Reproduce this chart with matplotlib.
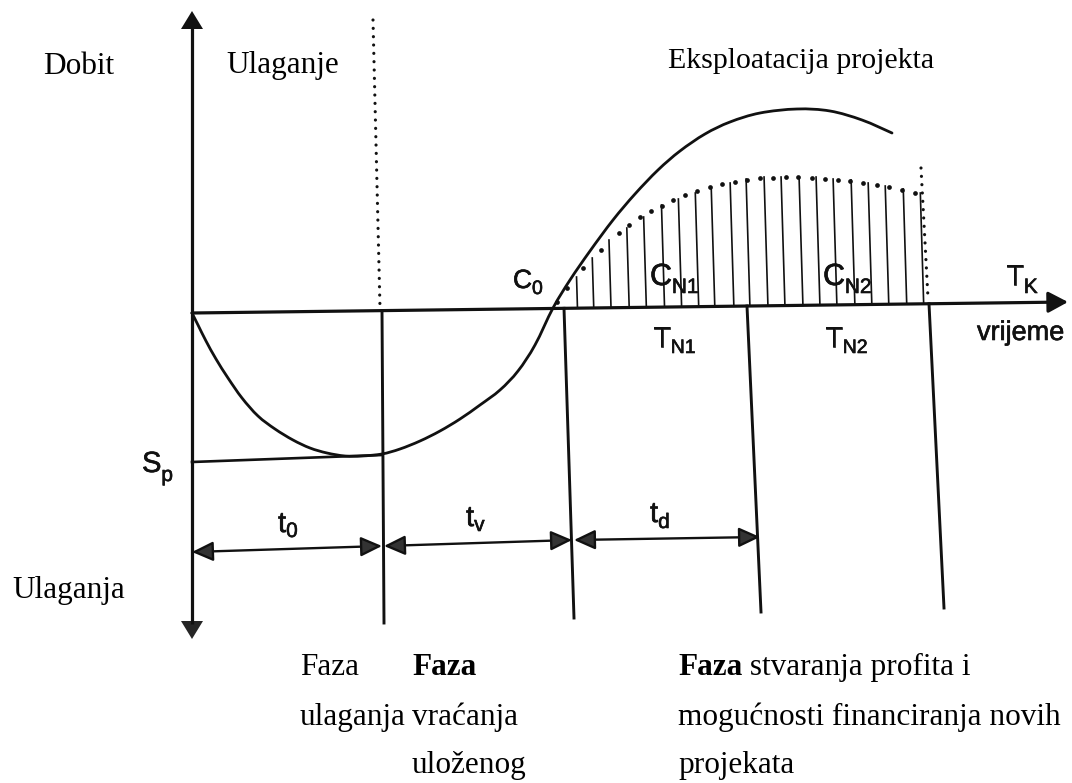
import numpy as np
import matplotlib
matplotlib.use("Agg")
import matplotlib.pyplot as plt
from matplotlib.path import Path
from matplotlib.patches import PathPatch
import matplotlib.patheffects as pe

# ---- data (diagram coordinates, y grows downward) ----
# S-shaped cumulative cash-flow curve
curve_x = [192, 198, 206, 216, 228, 242, 258, 275, 293, 310, 327, 345, 362, 382,
           400, 420, 440, 460, 480, 500, 518, 535, 553, 570, 590, 613, 635, 658,
           680, 705, 730, 760, 797, 830, 862, 892]
curve_y = [313, 325, 341, 359, 378, 398, 416, 429, 440, 448, 453, 456, 456, 454,
           449, 441, 431, 419, 405, 390, 371, 345, 308, 280, 251, 220, 194, 170,
           151, 134, 122, 113, 109, 111, 120, 133]

# dotted profile of the net cash flow
dot_x = [557, 567, 583, 601, 619, 629, 640, 651, 662, 673, 685, 697, 710, 722, 735,
         747, 760, 773, 786, 798, 812, 825, 838, 850, 863, 877, 889, 902, 915]
dot_y = [302, 288, 268, 250, 233, 225, 217, 211, 206, 200, 195, 191, 187, 184, 182,
         180, 178, 178, 177, 177, 178, 179, 180, 181, 183, 185, 187, 190, 193]

# hatch stems under the profile
hatch_x = [577, 593, 610, 628, 645, 663, 680, 697, 713, 732, 748, 766, 783, 801,
           818, 835, 853, 870, 887, 905, 922]
hatch_top = [277, 258, 240, 228, 217, 205, 199, 193, 187, 183, 179, 177, 177, 177,
             177, 179, 180, 183, 186, 189, 193]

# time axis (start, end) and phase boundaries
axis_x = [192, 1068]
axis_y = [313, 302]
bound_top_x = [382, 564, 747, 929]
bound_bot_x = [384, 574, 761, 944]
bound_bot_y = [623, 618, 612, 608]

# S_p level line
sp_x = [192, 382]
sp_y = [462, 455]

# dimension arrows t0, tv, td
dim_x0 = [192, 384, 574]
dim_x1 = [382, 572, 760]
dim_y0 = [552, 546, 540]
dim_y1 = [546, 540, 537]

SERIF = "Liberation Serif"
SANS = "Liberation Sans"

fig = plt.figure(figsize=(10.72, 7.83), dpi=100)
ax = fig.add_axes([0, 0, 1, 1])
ax.set_xlim(0, 1072)
ax.set_ylim(783, 0)
ax.axis("off")

K = "#111111"

def axis_y_at(x):
    return np.interp(x, axis_x, axis_y)

def smooth_path(xs, ys):
    """Cubic Bezier path through the read points (Catmull-Rom tangents)."""
    P = np.column_stack([xs, ys]).astype(float)
    n = len(P)
    verts = [P[0]]
    codes = [Path.MOVETO]
    for i in range(n - 1):
        p0 = P[i - 1] if i > 0 else P[i]
        p1, p2 = P[i], P[i + 1]
        p3 = P[i + 2] if i + 2 < n else P[i + 1]
        verts += [p1 + (p2 - p0) / 6.0, p2 - (p3 - p1) / 6.0, p2]
        codes += [Path.CURVE4] * 3
    return Path(verts, codes)

# vertical axis with arrows
ax.plot([192, 192], [26, 624], color=K, lw=2.3, solid_capstyle="butt")
ax.fill([181, 203, 192], [29, 29, 11], color=K, lw=0)
ax.fill([181, 203, 192], [621, 621, 639], color="#262626", lw=0)

# horizontal time axis
ax.annotate("", xy=(axis_x[1], axis_y[1]), xytext=(axis_x[0], axis_y[0]),
            arrowprops=dict(arrowstyle="-|>,head_length=0.6,head_width=0.32",
                            mutation_scale=20, lw=2.3, color=K,
                            shrinkA=0, shrinkB=0))

# phase boundary lines
for xt, xb, yb in zip(bound_top_x, bound_bot_x, bound_bot_y):
    ax.plot([xt, xb], [axis_y_at(xt), yb], color=K, lw=2.1)

# dotted verticals
ax.plot([373, 380], [20, 308], color=K, lw=2.3, linestyle=(0, (0.01, 2.6)),
        dash_capstyle="round")
ax.plot([921, 928], [168, 298], color=K, lw=2.3, linestyle=(0, (0.01, 2.6)),
        dash_capstyle="round")

# S-curve
ax.add_patch(PathPatch(smooth_path(curve_x, curve_y), fill=False, ec=K, lw=2.0,
                       joinstyle="round", capstyle="round"))

# S_p line
ax.plot(sp_x, sp_y, color=K, lw=1.9)

# hatch stems
for hx, ht in zip(hatch_x, hatch_top):
    yb = axis_y_at(hx)
    ax.plot([hx - 0.03 * (yb - ht) / 2, hx + 0.03 * (yb - ht) / 2], [ht, yb],
            color=K, lw=1.2)

# dotted profile
ax.plot(dot_x, dot_y, "o", color=K, ms=3.4, mew=0)

# dimension arrows
for x0, x1, y0, y1 in zip(dim_x0, dim_x1, dim_y0, dim_y1):
    ax.annotate("", xy=(x1, y1), xytext=(x0, y0),
                arrowprops=dict(arrowstyle="<|-|>,head_length=0.65,head_width=0.3",
                                mutation_scale=20, lw=1.7, fc="#333333", ec=K,
                                shrinkA=0, shrinkB=0))

# ---- sans labels ----
bold_fx = [pe.withStroke(linewidth=0.45, foreground=K)]

def sub_label(x, y, main, sub, size=21, subsize=15, dy=7):
    t = ax.text(x, y, main, fontsize=size, family=SANS, va="baseline",
                ha="left", color=K, path_effects=bold_fx)
    ax.annotate(sub, xy=(1, y + dy), xycoords=(t, "data"), fontsize=subsize,
                family=SANS, va="baseline", ha="left", color=K,
                path_effects=bold_fx)

sub_label(513, 288, "C", "0", size=19, subsize=14, dy=6)
sub_label(650, 285, "C", "N1", size=22, subsize=15, dy=8)
sub_label(823, 285, "C", "N2", size=22, subsize=15, dy=8)
sub_label(1006, 285, "T", "K", size=21, subsize=15, dy=8)
sub_label(653, 347, "T", "N1", size=21, subsize=14, dy=6)
sub_label(825, 347, "T", "N2", size=21, subsize=14, dy=6)
sub_label(142, 472, "S", "p", size=21, subsize=15, dy=9)
sub_label(278, 532, "t", "0", size=21, subsize=15, dy=5)
sub_label(466, 526, "t", "v", size=21, subsize=15, dy=5)
sub_label(650, 522, "t", "d", size=21, subsize=15, dy=6)
ax.text(977, 340, "vrijeme", fontsize=19.5, family=SANS, va="baseline",
        ha="left", color=K, path_effects=bold_fx)

# ---- serif texts ----
SS = 22.5
def serif(x, y, s, weight="normal", size=SS):
    return ax.text(x, y, s, fontsize=size, family=SERIF, va="baseline", ha="left",
                   color="black", fontweight=weight)

serif(43, 74, "Dobit")
serif(226, 73, "Ulaganje")
serif(668, 68, "Eksploatacija projekta", size=21.5)
serif(12, 598, "Ulaganja")

serif(300, 675, "Faza")
serif(300, 725, "ulaganja")

serif(412, 675, "Faza", weight="bold")
serif(412, 725, "vraćanja")
serif(412, 773, "uloženog")

tb = serif(678, 675, "Faza", weight="bold")
ax.annotate(" stvaranja profita i", xy=(1, 675), xycoords=(tb, "data"),
            fontsize=SS, family=SERIF, va="baseline", ha="left", color="black")
serif(678, 725, "mogućnosti financiranja novih")
serif(678, 773, "projekata")

fig.savefig("out.png", dpi=100)
